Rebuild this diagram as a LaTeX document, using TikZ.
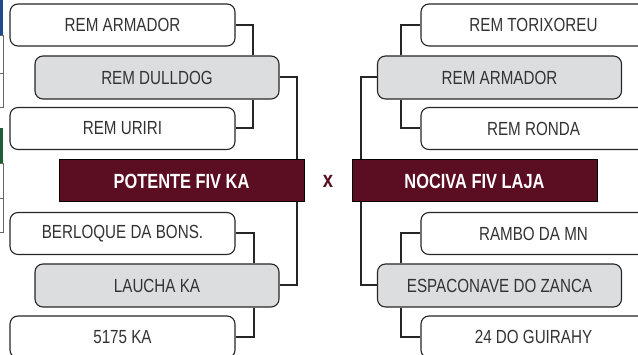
\documentclass[tikz,border=0pt]{standalone}
\usepackage{fontspec}
\setmainfont{Liberation Sans}[FakeStretch=0.8]
\usetikzlibrary{positioning}
\definecolor{wine}{HTML}{5B0D22}
\definecolor{boxgrey}{HTML}{DCDDDF}
\definecolor{edgeblue}{HTML}{1F4A8F}
\definecolor{edgegreen}{HTML}{1E5E36}

\begin{document}
\begin{tikzpicture}[
    x=1pt, y=-1pt,
    entrant/.style={draw=black!85, line width=1.1pt, rounded corners=8pt,
                    fill=white, minimum width=225pt, minimum height=42pt,
                    inner sep=0pt, text=black!80,
                    font=\fontsize{19}{22}\selectfont},
    winner/.style={entrant, fill=boxgrey, minimum width=244pt, minimum height=43pt},
    finalist/.style={draw=black, line width=1pt, fill=wine, minimum width=245pt,
                     minimum height=42pt, inner sep=0pt, text=white,
                     font=\fontsize{20.5}{22}\selectfont\bfseries},
    link/.style={draw=black!85, line width=2pt}
  ]
  \useasboundingbox (0,0) rectangle (638,355);

  % bits of the neighbouring chart at the left edge
  \fill[edgeblue] (0,0) rectangle (3,35);
  \draw[black!60, line width=0.6pt] (0,35) -- (3,35) -- (3,107) -- (0,107)
    (0,73) -- (3,73);
  \fill[edgegreen] (0,128) rectangle (3,163);
  \draw[black!60, line width=0.6pt] (0,163) -- (3,163) -- (3,232) -- (0,232)
    (0,198) -- (3,198);

  % left side
  \node[entrant] (a1) at (122.5,25) {REM ARMADOR};
  \node[winner] (w1) at (157,77.5) {REM DULLDOG};
  \node[entrant] (u1) at (122.5,128.5) {REM URIRI};
  \node[finalist] (f1) at (181.5,181) {POTENTE FIV KA};
  \node[entrant] (b1) at (122.5,233.5) {BERLOQUE DA BONS.};
  \node[winner] (w2) at (157,285.5) {LAUCHA KA};
  \node[entrant] (k1) at (122.5,337) {5175 KA};

  % right side
  \node[entrant] (t1) at (533.5,25) {REM TORIXOREU};
  \node[winner] (w3) at (499.5,77.5) {REM ARMADOR};
  \node[entrant] (r1) at (533.5,128.5) {REM RONDA};
  \node[finalist] (f2) at (474.5,181) {NOCIVA FIV LAJA};
  \node[entrant] (m1) at (533.5,233.5) {RAMBO DA MN};
  \node[winner] (w4) at (499.5,285.5) {ESPACONAVE DO ZANCA};
  \node[entrant] (g1) at (533.5,337) {24 DO GUIRAHY};

  \node[text=wine, font=\fontsize{23}{24}\selectfont\bfseries] (vs) at (328,181) {x};

  % left connectors
  \draw[link] (a1.east) -| ([xshift=-27pt]w1.north east);
  \draw[link] (u1.east) -| ([xshift=-27pt]w1.south east);
  \draw[link] (w1.east) -| ([xshift=-8pt]f1.north east);
  \draw[link] (b1.east) -| ([xshift=-26pt]w2.north east);
  \draw[link] (k1.east) -| ([xshift=-26pt]w2.south east);
  \draw[link] (w2.east) -| ([xshift=-8pt]f1.south east);

  % right connectors
  \draw[link] (t1.west) -| ([xshift=24pt]w3.north west);
  \draw[link] (r1.west) -| ([xshift=24pt]w3.south west);
  \draw[link] (w3.west) -| ([xshift=9pt]f2.north west);
  \draw[link] (m1.west) -| ([xshift=24pt]w4.north west);
  \draw[link] (g1.west) -| ([xshift=24pt]w4.south west);
  \draw[link] (w4.west) -| ([xshift=9pt]f2.south west);
\end{tikzpicture}
\end{document}
